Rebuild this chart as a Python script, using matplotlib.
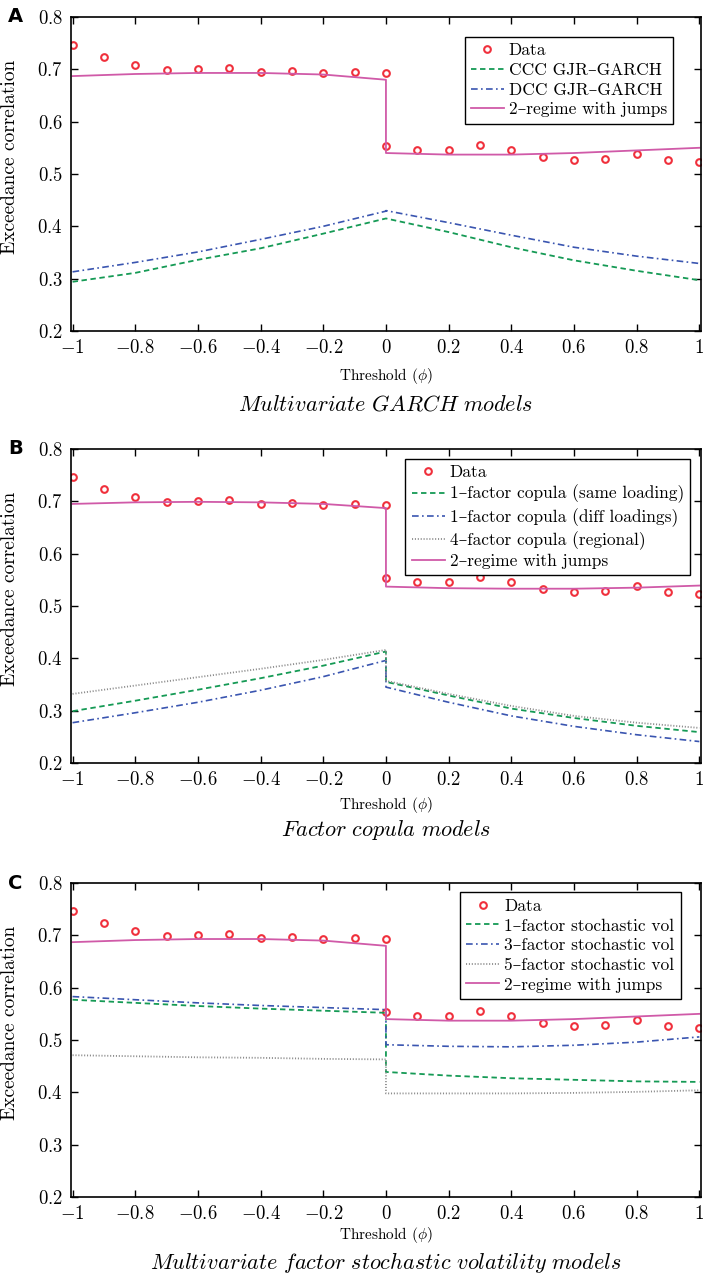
import matplotlib
matplotlib.use('Agg')
import matplotlib.pyplot as plt
import numpy as np

plt.rcParams['font.family'] = ['cmr10', 'DejaVu Serif']
plt.rcParams['mathtext.fontset'] = 'cm'
plt.rcParams['axes.formatter.use_mathtext'] = True
plt.rcParams['axes.unicode_minus'] = True

# empirical exceedance correlations (same in all panels)
data_x = [-1, -0.9, -0.8, -0.7, -0.6, -0.5, -0.4, -0.3, -0.2, -0.1, 0,
          0, 0.1, 0.2, 0.3, 0.4, 0.5, 0.6, 0.7, 0.8, 0.9, 1]
data_y = [0.746, 0.724, 0.708, 0.699, 0.701, 0.702, 0.695, 0.696, 0.693, 0.695, 0.693,
          0.554, 0.546, 0.546, 0.555, 0.546, 0.532, 0.527, 0.529, 0.539, 0.526, 0.523]

# model curves, left branch then right branch (jump at zero)
line_x = [-1, -0.8, -0.6, -0.4, -0.2, 0, 0, 0.2, 0.4, 0.6, 0.8, 1]

# panel A
ccc_A = [0.294, 0.311, 0.336, 0.358, 0.386, 0.415, 0.415, 0.389, 0.360, 0.335, 0.315, 0.297]
dcc_A = [0.313, 0.331, 0.351, 0.375, 0.400, 0.429, 0.430, 0.407, 0.383, 0.360, 0.343, 0.329]
regime_A = [0.687, 0.691, 0.693, 0.693, 0.690, 0.680, 0.540, 0.537, 0.537, 0.540, 0.545, 0.550]

# panel B
same_B = [0.299, 0.319, 0.340, 0.362, 0.386, 0.413, 0.355, 0.329, 0.304, 0.286, 0.271, 0.259]
diff_B = [0.277, 0.296, 0.316, 0.339, 0.365, 0.396, 0.345, 0.316, 0.290, 0.270, 0.254, 0.241]
reg_B = [0.332, 0.348, 0.364, 0.380, 0.397, 0.416, 0.357, 0.332, 0.309, 0.290, 0.277, 0.267]
regime_B = [0.695, 0.698, 0.699, 0.698, 0.695, 0.687, 0.537, 0.534, 0.533, 0.533, 0.535, 0.539]

# panel C
one_C = [0.577, 0.571, 0.565, 0.560, 0.556, 0.552, 0.439, 0.432, 0.427, 0.424, 0.421, 0.420]
three_C = [0.583, 0.577, 0.571, 0.566, 0.562, 0.558, 0.491, 0.488, 0.487, 0.490, 0.496, 0.506]
five_C = [0.471, 0.469, 0.467, 0.466, 0.464, 0.463, 0.398, 0.398, 0.398, 0.399, 0.401, 0.404]
regime_C = regime_A

x_ticks = [-1, -0.8, -0.6, -0.4, -0.2, 0, 0.2, 0.4, 0.6, 0.8, 1]
x_ticklabels = ['$-1$', '$-0.8$', '$-0.6$', '$-0.4$', '$-0.2$', '$0$', '$0.2$', '$0.4$', '$0.6$', '$0.8$', '$1$']
y_ticks = [0.2, 0.3, 0.4, 0.5, 0.6, 0.7, 0.8]
y_ticklabels = ['$0.2$', '$0.3$', '$0.4$', '$0.5$', '$0.6$', '$0.7$', '$0.8$']

RED = '#f0303c'
GREEN = '#159a55'
BLUE = '#3a55b0'
GRAY = '#8c8c8c'
PINK = '#d05aa8'

fig = plt.figure(figsize=(7.03, 12.74), dpi=100)

def setup(ax, caption, letter, legend_anchor, cap_y, xlab_pad):
	ax.set_xlim(-1.005, 1.005)
	ax.set_ylim(0.2, 0.8)
	ax.set_xticks(x_ticks)
	ax.set_xticklabels(x_ticklabels)
	ax.set_yticks(y_ticks)
	ax.set_yticklabels(y_ticklabels)
	ax.tick_params(direction='in', top=True, right=True, length=5, width=1,
		labelsize=13.5, pad=6)
	for s in ax.spines.values():
		s.set_linewidth(1.2)
	ax.set_ylabel('Exceedance correlation', fontsize=14)
	ax.yaxis.set_label_coords(-0.082, 0.555)
	ax.set_xlabel(r'Threshold ($\phi$)', fontsize=11, labelpad=xlab_pad)
	ax.text(0.5, cap_y, caption, transform=ax.transAxes, ha='center', va='center', fontsize=16)
	ax.text(-0.1, 1.0, letter, transform=ax.transAxes, ha='left', va='center',
		fontsize=14, fontweight='bold', family='DejaVu Sans')
	leg = ax.legend(loc='upper right', bbox_to_anchor=legend_anchor, fontsize=12.5,
		fancybox=False, framealpha=1, edgecolor='black', handlelength=1.9,
		handletextpad=0.3, labelspacing=0.25, borderpad=0.35, borderaxespad=0)
	leg.get_frame().set_linewidth(1.0)

def data_pts(ax):
	ax.plot(data_x, data_y, 'o', mfc='none', mec=RED, mew=1.5, ms=4.8, label='Data')

ax1 = fig.add_axes([0.101, 0.7402, 0.896, 0.2465])
data_pts(ax1)
ax1.plot(line_x, ccc_A, color=GREEN, ls=(0, (3, 2)), lw=1.3, label='CCC GJR–GARCH')
ax1.plot(line_x, dcc_A, color=BLUE, ls=(0, (4, 2, 1, 2)), lw=1.2, label='DCC GJR–GARCH')
ax1.plot(line_x, regime_A, color=PINK, lw=1.3, label='2–regime with jumps')
setup(ax1, r'$Multivariate\ GARCH\ models$', 'A', (0.956, 0.936), -0.235, 6)

ax2 = fig.add_axes([0.101, 0.4011, 0.896, 0.2465])
data_pts(ax2)
ax2.plot(line_x, same_B, color=GREEN, ls=(0, (3, 2)), lw=1.3, label='1–factor copula (same loading)')
ax2.plot(line_x, diff_B, color=BLUE, ls=(0, (4, 2, 1, 2)), lw=1.2, label='1–factor copula (diff loadings)')
ax2.plot(line_x, reg_B, color=GRAY, ls=(0, (0.6, 1.0)), lw=1.3, label='4–factor copula (regional)')
ax2.plot(line_x, regime_B, color=PINK, lw=1.3, label='2–regime with jumps')
setup(ax2, r'$Factor\ copula\ models$', 'B', (0.983, 0.968), -0.214, 4)

ax3 = fig.add_axes([0.101, 0.0604, 0.896, 0.2465])
data_pts(ax3)
ax3.plot(line_x, one_C, color=GREEN, ls=(0, (3, 2)), lw=1.3, label='1–factor stochastic vol')
ax3.plot(line_x, three_C, color=BLUE, ls=(0, (4, 2, 1, 2)), lw=1.2, label='3–factor stochastic vol')
ax3.plot(line_x, five_C, color=GRAY, ls=(0, (0.6, 1.0)), lw=1.3, label='5–factor stochastic vol')
ax3.plot(line_x, regime_C, color=PINK, lw=1.3, label='2–regime with jumps')
setup(ax3, r'$Multivariate\ factor\ stochastic\ volatility\ models$', 'C', (0.968, 0.970), -0.207, 1)

fig.savefig('out.png', dpi=100)
